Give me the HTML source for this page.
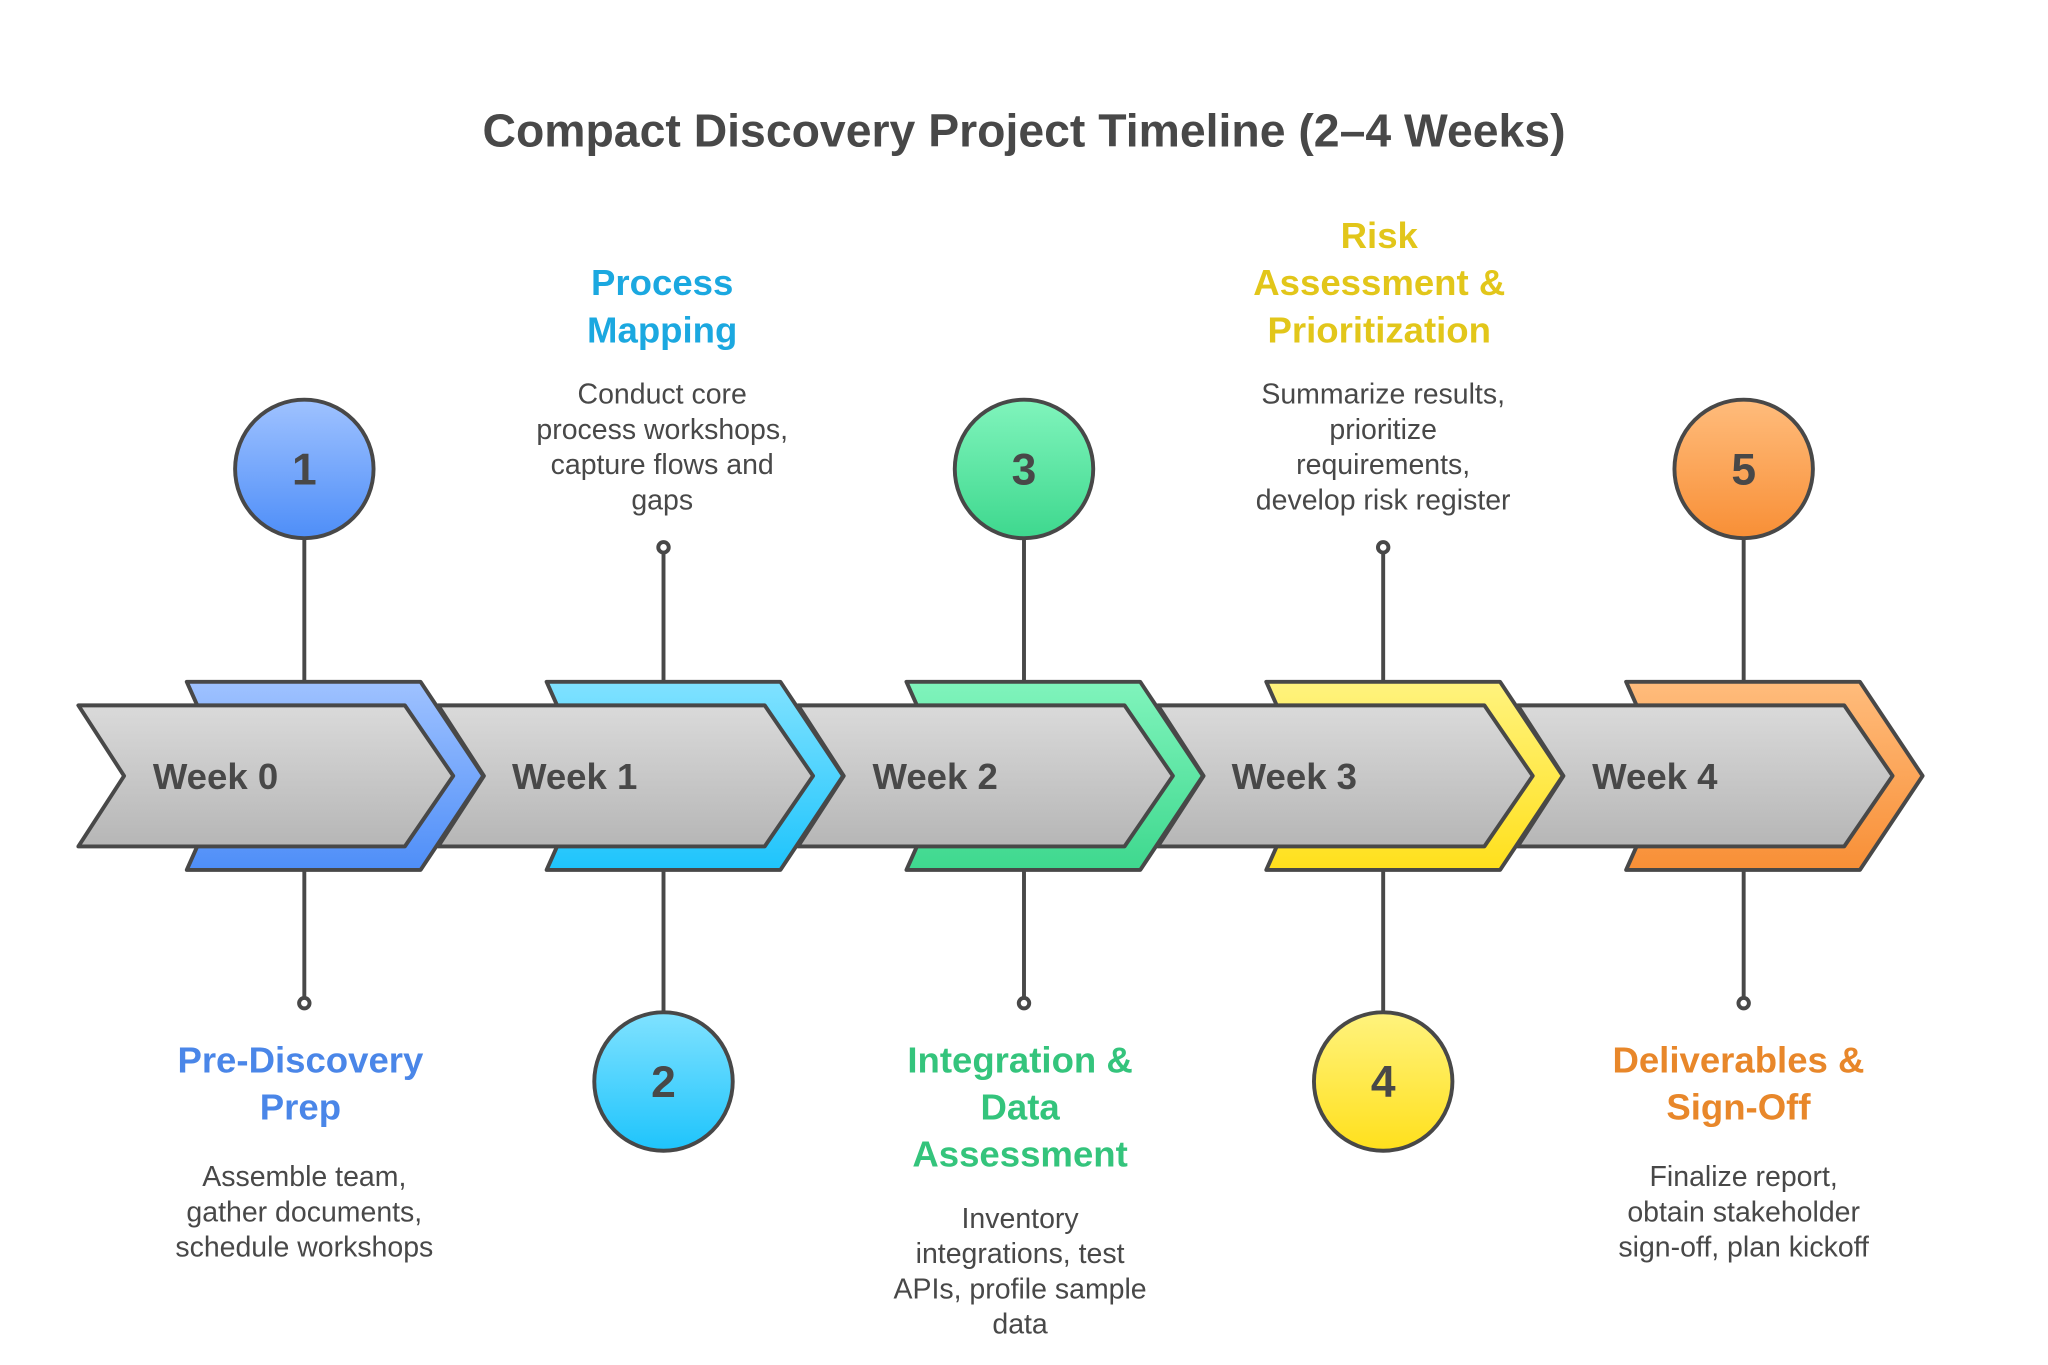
<!DOCTYPE html>
<html><head><meta charset="utf-8"><style>html,body{margin:0;padding:0;background:#fff}svg{display:block}</style></head><body>
<svg width="2048" height="1365" viewBox="0 0 1568 1045" xmlns="http://www.w3.org/2000/svg" font-family="Liberation Sans, sans-serif">
<defs>
<linearGradient id="g" x1="0" y1="0" x2="0" y2="1"><stop offset="0" stop-color="#dadada"/><stop offset="1" stop-color="#b6b6b6"/></linearGradient>
<linearGradient id="c0" x1="0" y1="0" x2="0" y2="1"><stop offset="0" stop-color="#9fc2ff"/><stop offset="1" stop-color="#4e8ef8"/></linearGradient>
<linearGradient id="c1" x1="0" y1="0" x2="0" y2="1"><stop offset="0" stop-color="#80e2ff"/><stop offset="1" stop-color="#1ec4fc"/></linearGradient>
<linearGradient id="c2" x1="0" y1="0" x2="0" y2="1"><stop offset="0" stop-color="#80f4bc"/><stop offset="1" stop-color="#3ed88e"/></linearGradient>
<linearGradient id="c3" x1="0" y1="0" x2="0" y2="1"><stop offset="0" stop-color="#fff37e"/><stop offset="1" stop-color="#ffe01c"/></linearGradient>
<linearGradient id="c4" x1="0" y1="0" x2="0" y2="1"><stop offset="0" stop-color="#ffbc7c"/><stop offset="1" stop-color="#f88f36"/></linearGradient>
<g id="gray"><polygon points="60,540 310,540 347,594 310,648 60,648 95,594" fill="url(#g)" stroke="#484848" stroke-width="3" stroke-linejoin="round"/></g>
</defs>
<text x="784" y="112" text-anchor="middle" font-size="35.5" font-weight="bold" fill="#484848">Compact Discovery Project Timeline (2–4 Weeks)</text>
<g stroke="#484848" stroke-width="3" fill="#fff">
<line x1="233" y1="412" x2="233" y2="522"/><line x1="233" y1="666" x2="233" y2="764"/><circle cx="233" cy="768" r="4"/>
<line x1="508" y1="423" x2="508" y2="522"/><circle cx="508" cy="419" r="4"/><line x1="508" y1="666" x2="508" y2="775"/>
<line x1="784" y1="412" x2="784" y2="522"/><line x1="784" y1="666" x2="784" y2="764"/><circle cx="784" cy="768" r="4"/>
<line x1="1059" y1="423" x2="1059" y2="522"/><circle cx="1059" cy="419" r="4"/><line x1="1059" y1="666" x2="1059" y2="775"/>
<line x1="1335" y1="412" x2="1335" y2="522"/><line x1="1335" y1="666" x2="1335" y2="764"/><circle cx="1335" cy="768" r="4"/>
</g>
<g stroke="#484848" stroke-width="3" stroke-linejoin="round">
<g transform="translate(1102,0)"><polygon points="143,522 322,522 370,594 322,666 143,666 175,594" fill="url(#c4)"/><use href="#gray"/></g>
<g transform="translate(826.5,0)"><polygon points="143,522 322,522 370,594 322,666 143,666 175,594" fill="url(#c3)"/><use href="#gray"/></g>
<g transform="translate(551,0)"><polygon points="143,522 322,522 370,594 322,666 143,666 175,594" fill="url(#c2)"/><use href="#gray"/></g>
<g transform="translate(275.5,0)"><polygon points="143,522 322,522 370,594 322,666 143,666 175,594" fill="url(#c1)"/><use href="#gray"/></g>
<g><polygon points="143,522 322,522 370,594 322,666 143,666 175,594" fill="url(#c0)"/><use href="#gray"/></g>
</g>
<g font-size="28" font-weight="bold" fill="#484848">
<text x="117" y="604">Week 0</text><text x="392" y="604">Week 1</text><text x="668" y="604">Week 2</text><text x="943" y="604">Week 3</text><text x="1219" y="604">Week 4</text>
</g>
<g stroke="#484848" stroke-width="3">
<circle cx="233" cy="359" r="53" fill="url(#c0)"/><circle cx="508" cy="828" r="53" fill="url(#c1)"/><circle cx="784" cy="359" r="53" fill="url(#c2)"/><circle cx="1059" cy="828" r="53" fill="url(#c3)"/><circle cx="1335" cy="359" r="53" fill="url(#c4)"/>
</g>
<g font-size="34" font-weight="bold" fill="#484848" text-anchor="middle">
<text x="233" y="371">1</text><text x="508" y="840">2</text><text x="784" y="371">3</text><text x="1059" y="840">4</text><text x="1335" y="371">5</text>
</g>
<g font-size="28" font-weight="bold" text-anchor="middle">
<text fill="#4a86e8"><tspan x="230" y="821">Pre-Discovery</tspan><tspan x="230" y="857">Prep</tspan></text>
<text fill="#1ba8e0"><tspan x="507" y="226">Process</tspan><tspan x="507" y="262">Mapping</tspan></text>
<text fill="#34c47c"><tspan x="781" y="821">Integration &amp;</tspan><tspan x="781" y="857">Data</tspan><tspan x="781" y="893">Assessment</tspan></text>
<text fill="#e2c61a"><tspan x="1056" y="190">Risk</tspan><tspan x="1056" y="226">Assessment &amp;</tspan><tspan x="1056" y="262">Prioritization</tspan></text>
<text fill="#e8872a"><tspan x="1331" y="821">Deliverables &amp;</tspan><tspan x="1331" y="857">Sign-Off</tspan></text>
</g>
<g font-size="21.8" fill="#484848" text-anchor="middle">
<text><tspan x="233" y="908">Assemble team,</tspan><tspan x="233" y="935">gather documents,</tspan><tspan x="233" y="962">schedule workshops</tspan></text>
<text><tspan x="507" y="309">Conduct core</tspan><tspan x="507" y="336">process workshops,</tspan><tspan x="507" y="363">capture flows and</tspan><tspan x="507" y="390">gaps</tspan></text>
<text><tspan x="781" y="940">Inventory</tspan><tspan x="781" y="967">integrations, test</tspan><tspan x="781" y="994">APIs, profile sample</tspan><tspan x="781" y="1021">data</tspan></text>
<text><tspan x="1059" y="309">Summarize results,</tspan><tspan x="1059" y="336">prioritize</tspan><tspan x="1059" y="363">requirements,</tspan><tspan x="1059" y="390">develop risk register</tspan></text>
<text><tspan x="1335" y="908">Finalize report,</tspan><tspan x="1335" y="935">obtain stakeholder</tspan><tspan x="1335" y="962">sign-off, plan kickoff</tspan></text>
</g>
</svg>
</body></html>
